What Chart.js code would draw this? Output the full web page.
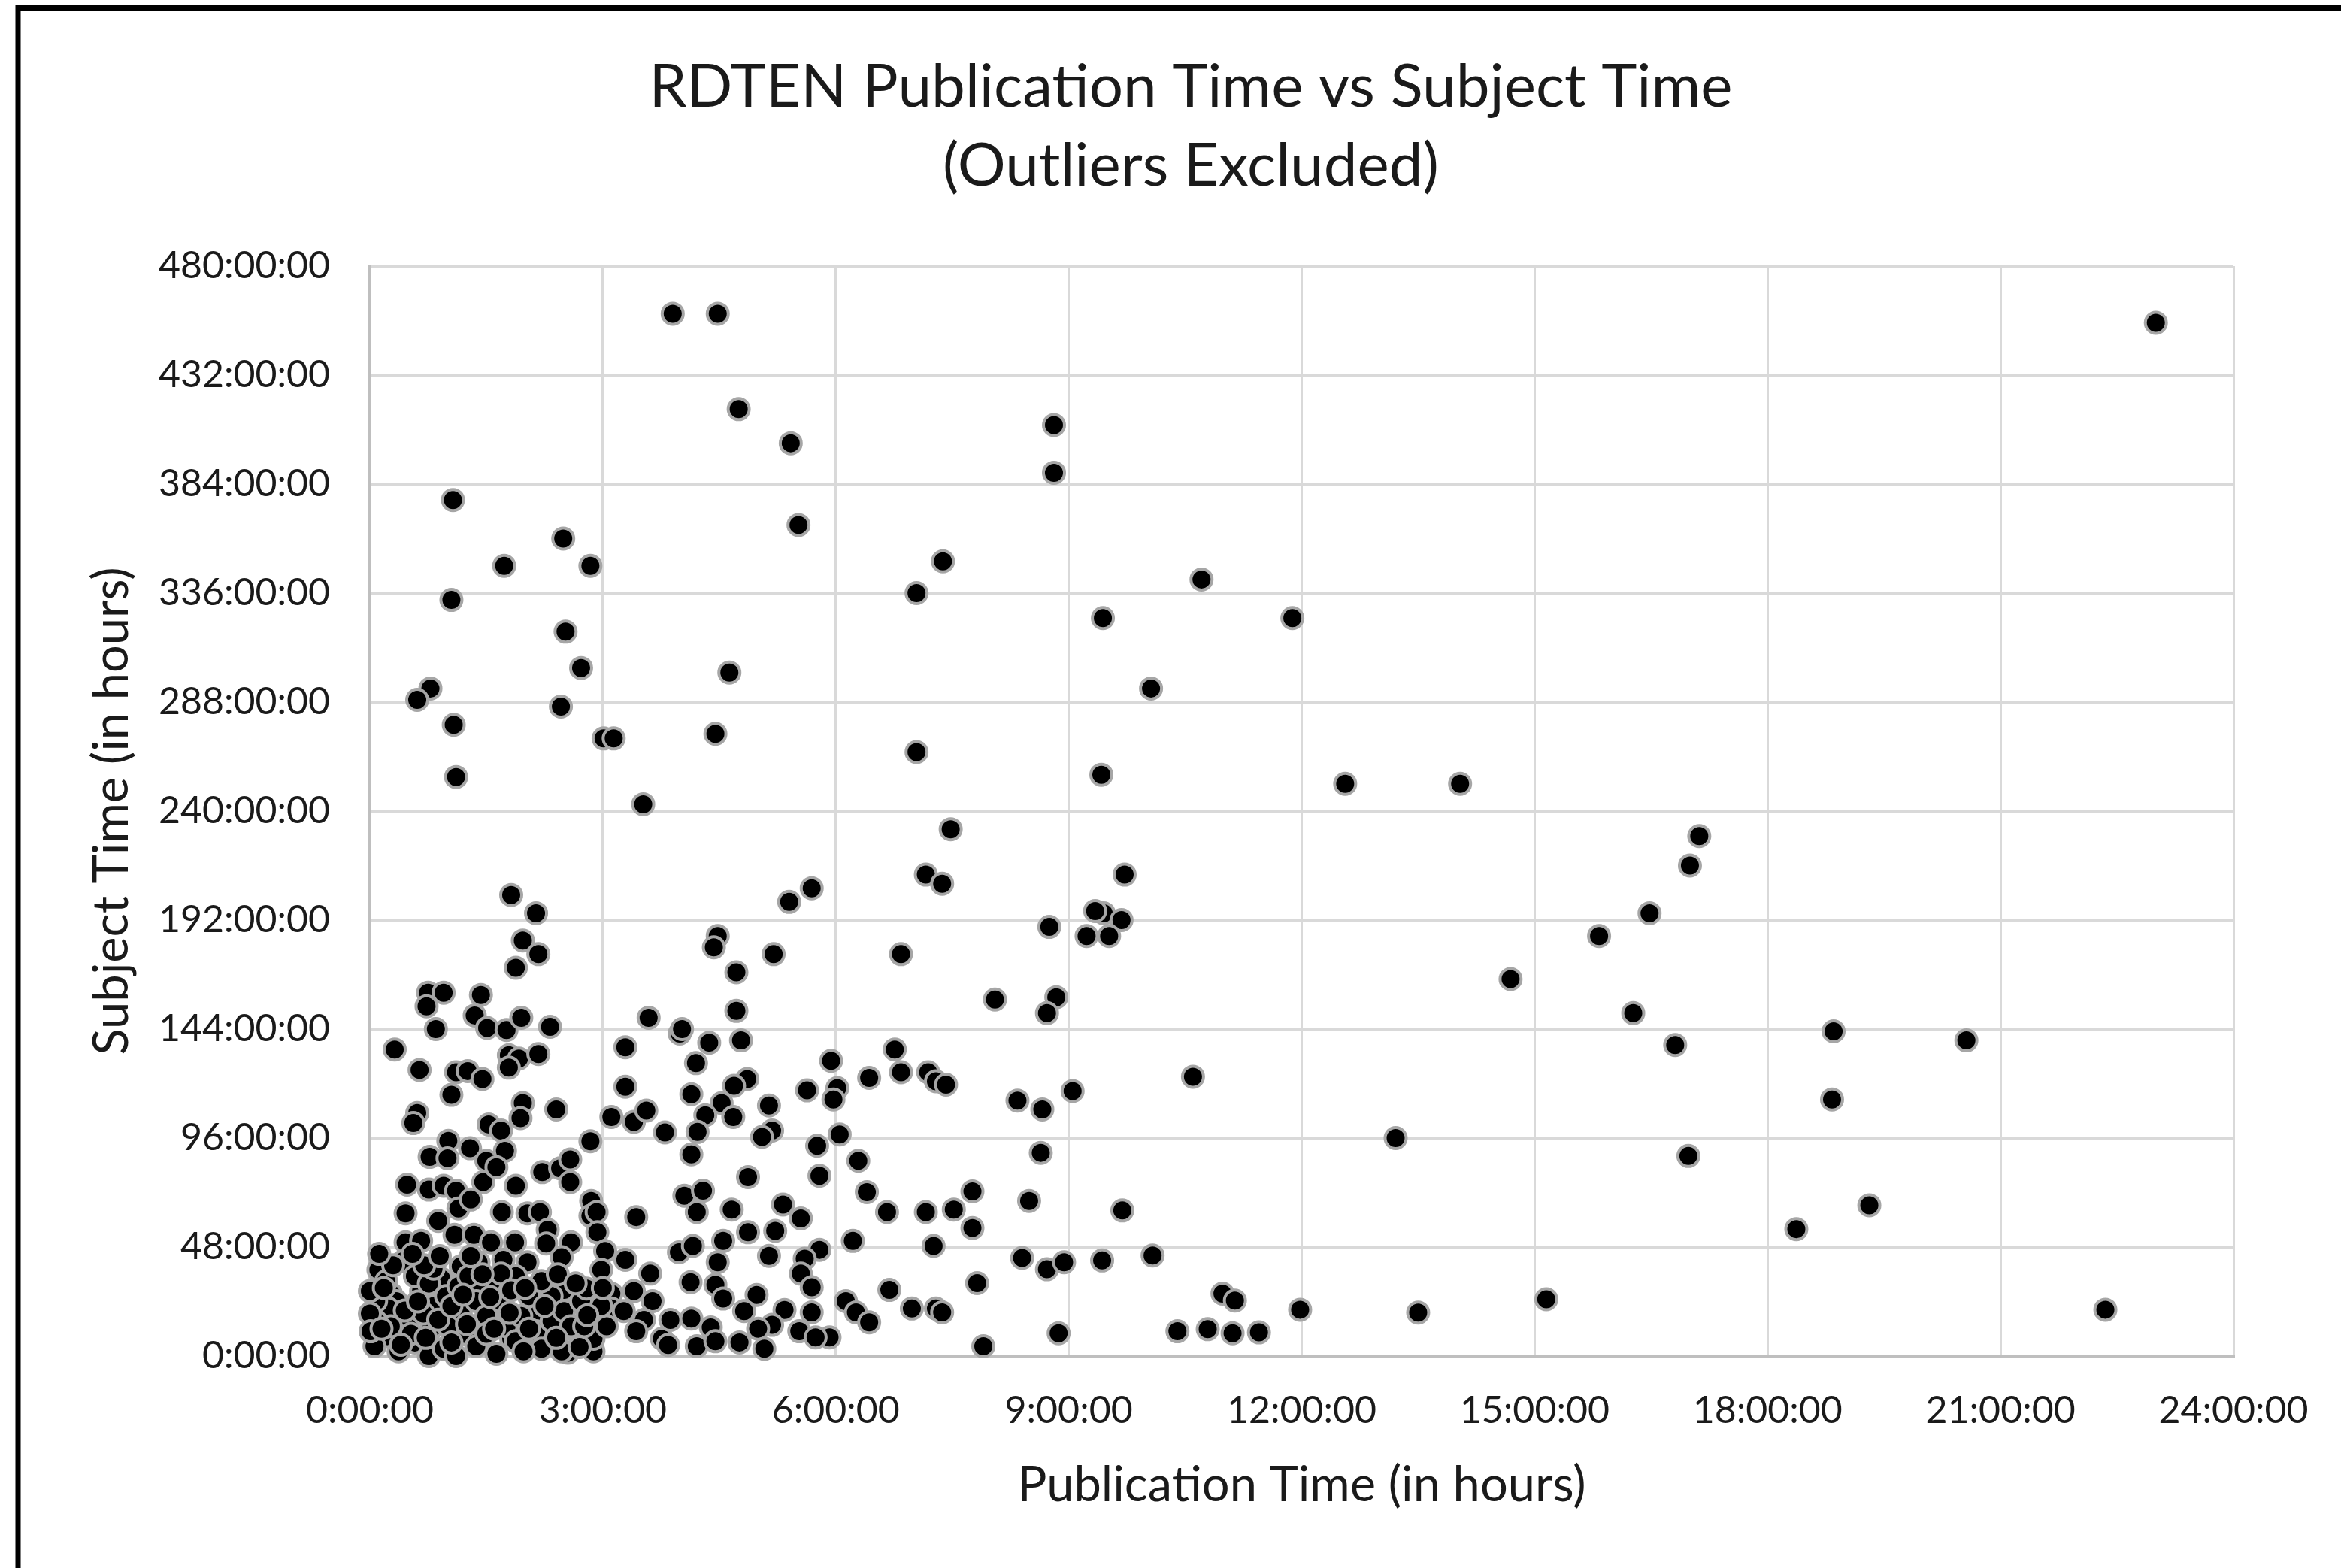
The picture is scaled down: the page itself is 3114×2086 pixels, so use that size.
<!DOCTYPE html>
<html lang="en">
<head>
<meta charset="UTF-8">
<title>RDTEN Publication Time vs Subject Time</title>
<script src="https://cdn.jsdelivr.net/npm/chart.js"></script>
<style>
  html, body { margin: 0; padding: 0; background: #fff; }
  canvas { display: block; }
</style>
</head>
<body>
<canvas id="chart" width="3114" height="2086"></canvas>
<script>
// publication time (hours) and subject time (hours)
const pubTime = [
  // upper part
  3.90, 4.48, 23.0, 4.75, 5.42, 8.81, 8.81, 1.07, 5.52, 2.49, 1.73, 2.84, 7.38, 10.71, 1.05,
  7.04, 9.44, 11.88, 2.52, 2.72, 4.63, 10.06, 0.78, 0.61, 2.46, 1.08, 3.01, 3.14, 4.45, 1.11,
  7.04, 9.42, 3.52, 12.56, 14.04, 7.48, 17.12, 17.0, 7.16, 7.37, 9.72, 5.69, 5.40, 1.82, 2.14,
  16.48, 9.45, 9.34, 9.68, 9.23, 9.52, 8.75, 15.83, 1.97, 2.17, 4.48, 4.43, 5.20, 6.84, 1.88,
  4.72, 14.69, 8.05, 8.84, 8.72, 16.27, 0.75, 0.95, 0.73, 1.43, 4.72, 18.85, 20.56, 16.81, 3.59,
  // middle band
  0.85, 1.35, 1.51, 1.76, 1.95, 2.32, 3.29, 0.32, 0.64, 1.11, 1.26, 1.79, 1.92, 1.79, 2.17,
  1.45, 3.99, 4.02, 4.37, 4.78, 4.20, 5.94, 6.76, 6.84, 6.43, 7.19, 7.29, 7.42, 4.86, 4.69,
  10.6, 1.05, 0.61, 0.56, 1.97, 1.94, 2.40, 3.29, 3.11, 3.40, 3.56, 3.80, 1.53, 1.69, 1.01,
  1.29, 1.74, 0.77, 1.00, 1.50, 2.84, 4.14, 5.63, 6.02, 5.97, 4.53, 4.32, 4.68, 5.14, 4.22,
  5.18, 5.05, 6.05, 8.34, 8.66, 9.05, 13.21, 18.83,
  // lower left cluster
  2.22, 2.45, 2.58, 2.58, 0.48, 0.76, 0.95, 1.46, 1.63, 1.11, 1.14, 1.30, 1.88, 2.85, 2.84,
  2.92, 0.46, 0.88, 1.70, 2.03, 2.19, 3.43, 2.29, 2.59, 2.93, 0.46, 0.66, 1.09, 1.34, 1.56,
  1.87, 2.27, 2.47, 3.03, 1.40, 1.72, 2.03, 0.11, 0.43, 1.17, 2.98, 3.29, 3.61, 0.92, 1.56,
  2.50, 2.05, 3.11, 3.40, 3.64, 0.27, 0.66, 1.17, 0.51, 0.79, 1.22, 0.24, 0.06, 0.58, 1.63,
  1.82, 2.56, 2.88, 3.53, 2.14, 2.55, 2.88, 3.43, 3.11, 1.38,
  0.58, 0.76, 0.34, 0.24, 0.82, 0.98, 0.53, 1.01, 1.37, 1.50, 1.69, 1.76, 1.88, 2.14, 2.34,
  2.34, 2.50, 2.59, 2.72, 2.88, 2.47, 2.21, 1.98, 0.08, 0.08, 0.37, 0.76, 0.95, 1.11, 1.37,
  1.50, 1.14, 0.82, 1.27, 1.88, 2.21, 2.79, 2.76, 3.05, 3.27, 3.76, 2.98, 0.21, 0.00, 0.00,
  0.01, 0.27, 0.69, 1.69, 1.95,
  0.15, 0.18, 0.30, 0.40, 0.45, 0.62, 0.70, 0.72, 0.88, 0.90, 1.05, 1.05, 1.20, 1.25, 1.30,
  1.45, 1.55, 1.60, 1.80, 1.82, 2.00, 2.05, 2.25, 2.40, 2.42, 2.65, 2.70, 2.80, 3.00, 0.12,
  0.55,
  // lower middle
  4.87, 4.14, 5.76, 5.79, 6.29, 4.05, 4.29, 4.21, 4.66, 5.32, 5.55, 6.40, 6.66, 7.16, 7.52,
  4.87, 5.22, 5.14, 3.98, 4.16, 4.55, 4.48, 5.79, 5.60, 5.55, 5.69, 6.22, 7.26, 4.13, 4.45,
  4.55, 4.98, 5.34, 5.69, 4.82, 3.87, 4.14, 4.39, 5.18, 5.00, 5.53, 5.92, 3.84, 4.21, 4.45,
  4.76, 5.08, 5.74, 6.69, 6.13, 6.26, 6.43, 6.98, 7.29, 7.37,
  7.76, 8.49, 7.76, 9.69, 8.64, 8.40, 8.72, 8.94, 9.43, 10.08, 7.82, 10.98, 11.14, 8.87, 7.90,
  10.40, 10.79, 11.11, 11.45,
  // lower right
  11.98, 13.50, 15.15, 16.98, 18.37, 19.31, 22.35
];
const subjectTime = [
  // upper part
  459, 459, 455, 417, 402, 410, 389, 377, 366, 360, 348, 348, 350, 342, 333,
  336, 325, 325, 319, 303, 301, 294, 294, 289, 286, 278, 272, 272, 274, 255,
  266, 256, 243, 252, 252, 232, 229, 216, 212, 208, 212, 206, 200, 203, 195,
  195, 195, 196, 192, 185, 185, 189, 185, 183, 177, 185, 180, 177, 177, 171,
  169, 166, 157, 158, 151, 151, 160, 160, 154, 159, 152, 143, 139, 137, 149,
  // middle band
  144, 150, 144.5, 143.6, 149, 145, 136, 135, 126, 125, 125.5, 132.5, 131, 127, 133,
  122, 142, 144, 138, 139, 129, 130, 135, 125, 122.5, 125, 121, 119.5, 122, 119,
  123, 115, 107, 102.6, 111.4, 104.8, 108.6, 118.6, 105.3, 103.1, 108.1, 98.5, 102, 99.3, 94.8,
  91.5, 90.4, 87.7, 87.1, 86, 94.6, 115.3, 117, 118, 113, 111.4, 106, 105.3, 110.3, 98.7,
  99.3, 96.5, 97.6, 112.5, 108.6, 116.7, 96, 113,
  // lower left cluster
  81, 82.7, 86.6, 76.6, 75.5, 73.3, 75, 76.6, 83.2, 72.8, 65, 68.9, 75, 68.3, 61.7,
  63.4, 62.8, 59.5, 63.4, 62.8, 63.4, 61.2, 55.6, 50.1, 54.5, 50.1, 50.7, 53.4, 53.4, 50.1,
  50.1, 49.6, 43.5, 46.3, 41.3, 42.4, 41.3, 38, 41.8, 39.6, 38, 42.4, 36.3, 34.1, 32.5,
  29.1, 26.4, 27.5, 28.6, 24.2, 27.5, 28.6, 18.7, 16.5, 12, 9.8, 8.7, 4.3, 6, 1,
  7.6, 12, 14.2, 15.9, 17.6, 1.5, 2.1, 10.9, 20.9, 31.9,
  35.2, 31.9, 24.2, 20.9, 22, 26.4, 9.8, 13.1, 24.2, 17.6, 24.2, 13.1, 6.5, 10.9, 15.3,
  26.4, 19.8, 13.1, 24.2, 7.6, 2.1, 3.2, 2.1, 15.3, 24.2, 2.1, 0, 3.2, 0, 4.3,
  9.8, 30.8, 38.5, 35.2, 35.2, 33, 29.7, 13.1, 13.1, 19.8, 7.6, 22, 33, 28.6, 18.7,
  10.9, 13.1, 18.7, 36.3, 17.6,
  12, 30, 40, 5, 20, 24, 40, 8, 16, 44, 22, 6, 27, 14, 44,
  36, 26, 12, 19, 29, 30, 12, 22, 8, 36, 32, 4, 18, 30, 45,
  45,
  // lower middle
  78.8, 88.8, 92.6, 79.4, 86, 70.6, 72.8, 63.4, 64.5, 66.7, 60.6, 72.2, 63.4, 63.4, 64.5,
  54.5, 55.1, 44.1, 45.7, 48.5, 50.7, 41.3, 46.8, 42.9, 36.3, 30.3, 50.7, 48.5, 32.5, 31.4,
  25.3, 26.9, 20.3, 19.2, 19.8, 15.9, 16.5, 12.6, 13.7, 12, 10.9, 8.2, 4.9, 4.3, 6.5,
  6, 3.2, 8.2, 29.1, 24.2, 19.2, 14.8, 20.9, 20.9, 19.2,
  72.5, 68.3, 56.4, 64.1, 89.5, 43.2, 38.2, 41.3, 42.1, 44.3, 32.1, 27.5, 24.4, 10, 4.3,
  10.9, 11.8, 10, 10.4,
  // lower right
  20.4, 19.1, 25, 88.1, 55.9, 66.4, 20.4
];

const xTicks = [0, 3, 6, 9, 12, 15, 18, 21, 24];
const xTickLabels = ['0:00:00', '3:00:00', '6:00:00', '9:00:00', '12:00:00', '15:00:00', '18:00:00', '21:00:00', '24:00:00'];
const yTicks = [0, 48, 96, 144, 192, 240, 288, 336, 384, 432, 480];
const yTickLabels = ['0:00:00', '48:00:00', '96:00:00', '144:00:00', '192:00:00', '240:00:00', '288:00:00', '336:00:00', '384:00:00', '432:00:00', '480:00:00'];

const points = pubTime.map((x, i) => ({ x: x, y: subjectTime[i] }));

const FONT = 'Lato';
const TEXT = '#1a1a1a';

// white page with the black frame lines at the top and left
const frame = {
  id: 'frame',
  beforeDraw(chart) {
    const c = chart.ctx;
    c.save();
    c.fillStyle = '#fff';
    c.fillRect(0, 0, chart.width, chart.height);
    c.strokeStyle = '#000';
    c.lineWidth = 7;
    c.strokeRect(24, 10.5, chart.width + 50, chart.height + 50);
    c.restore();
  }
};

new Chart(document.getElementById('chart'), {
  type: 'scatter',
  data: {
    datasets: [{
      data: points,
      backgroundColor: '#000',
      borderColor: '#a6a6a6',
      borderWidth: 4,
      pointRadius: 14,
      clip: false
    }]
  },
  options: {
    responsive: false,
    devicePixelRatio: 1,
    animation: false,
    layout: { padding: { left: 197, right: 143, top: 0, bottom: 0 } },
    plugins: {
      legend: { display: false },
      tooltip: { enabled: false },
      title: {
        display: true,
        text: ['RDTEN Publication Time vs Subject Time', '(Outliers Excluded)'],
        color: TEXT,
        font: { family: FONT, size: 80, weight: 'normal', lineHeight: 1.3125 },
        padding: { top: 64, bottom: 80 }
      }
    },
    scales: {
      x: {
        type: 'linear',
        min: 0,
        max: 24,
        afterBuildTicks: s => { s.ticks = xTicks.map(v => ({ value: v })); },
        afterFit: s => { s.height = 282; },
        ticks: {
          callback: v => xTickLabels[xTicks.indexOf(v)],
          autoSkip: false,
          maxRotation: 0,
          padding: 43,
          color: TEXT,
          font: { family: FONT, size: 50 }
        },
        grid: { color: '#d9d9d9', lineWidth: 3, drawTicks: false },
        border: { color: '#bfbfbf', width: 4 },
        title: {
          display: true,
          text: 'Publication Time (in hours)',
          color: TEXT,
          font: { family: FONT, size: 65 },
          padding: { top: 0, bottom: 71 }
        }
      },
      y: {
        min: 0,
        max: 480,
        afterBuildTicks: s => { s.ticks = yTicks.map(v => ({ value: v })); },
        afterFit: s => { s.width = 295; },
        ticks: {
          callback: v => yTickLabels[yTicks.indexOf(v)],
          autoSkip: false,
          padding: 53,
          color: TEXT,
          font: { family: FONT, size: 50 }
        },
        grid: { color: '#d9d9d9', lineWidth: 3, drawTicks: false },
        border: { color: '#bfbfbf', width: 4 },
        title: {
          display: true,
          text: 'Subject Time (in hours)',
          color: TEXT,
          font: { family: FONT, size: 65 },
          padding: { top: -87, bottom: 0 }
        }
      }
    }
  },
  plugins: [frame]
});
</script>
</body>
</html>
